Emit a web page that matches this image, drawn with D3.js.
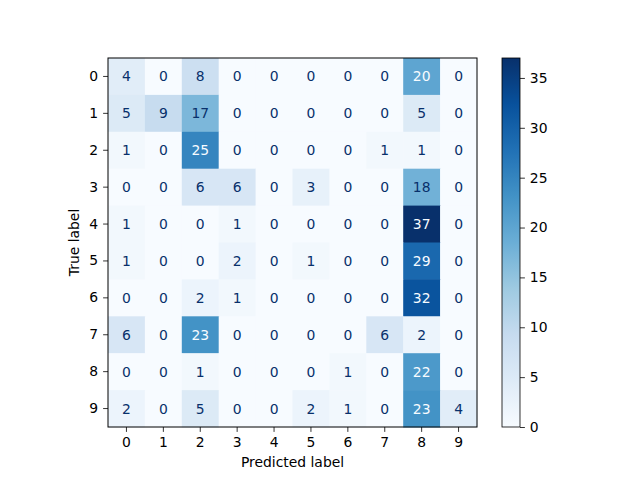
<!DOCTYPE html>
<html>
<head>
<meta charset="utf-8">
<script src="https://cdn.jsdelivr.net/npm/d3@7"></script>
<style>
  body { margin: 0; background: #fff; }
  text { font-family: "DejaVu Sans", sans-serif; }
</style>
</head>
<body>
<script>
// confusion matrix values, rows = true label, cols = predicted label
var labels = ["0", "1", "2", "3", "4", "5", "6", "7", "8", "9"];
var row0 = [4, 0, 8, 0, 0, 0, 0, 0, 20, 0];
var row1 = [5, 9, 17, 0, 0, 0, 0, 0, 5, 0];
var row2 = [1, 0, 25, 0, 0, 0, 0, 1, 1, 0];
var row3 = [0, 0, 6, 6, 0, 3, 0, 0, 18, 0];
var row4 = [1, 0, 0, 1, 0, 0, 0, 0, 37, 0];
var row5 = [1, 0, 0, 2, 0, 1, 0, 0, 29, 0];
var row6 = [0, 0, 2, 1, 0, 0, 0, 0, 32, 0];
var row7 = [6, 0, 23, 0, 0, 0, 0, 6, 2, 0];
var row8 = [0, 0, 1, 0, 0, 0, 1, 0, 22, 0];
var row9 = [2, 0, 5, 0, 0, 2, 1, 0, 23, 4];
var matrix = [row0, row1, row2, row3, row4, row5, row6, row7, row8, row9];
var colorbarTicks = [0, 5, 10, 15, 20, 25, 30, 35];

var width = 640, height = 480;
var mLeft = 108, mRight = 477, mTop = 58, mBottom = 427;
var cbLeft = 502, cbRight = 520;

// matplotlib "Blues"
var blues = ["#f7fbff", "#deebf7", "#c6dbef", "#9ecae1", "#6baed6",
             "#4292c6", "#2171b5", "#08519c", "#08306b"];

var cells = [];
matrix.forEach(function(r, i) {
    r.forEach(function(v, j) {
        cells.push({row: i, col: j, value: v});
    });
});

var vmin = d3.min(cells, function(d) { return d.value; });
var vmax = d3.max(cells, function(d) { return d.value; });
var thresh = (vmin + vmax) / 2;

var color = d3.scaleLinear()
    .domain(blues.map(function(c, i) { return vmin + (vmax - vmin) * i / (blues.length - 1); }))
    .range(blues)
    .interpolate(d3.interpolateRgb);

var x = d3.scaleBand().domain(labels).range([mLeft, mRight]);
var y = d3.scaleBand().domain(labels).range([mTop, mBottom]);

var svg = d3.select("body").append("svg")
    .attr("width", width)
    .attr("height", height);

svg.append("rect")
    .attr("width", width)
    .attr("height", height)
    .attr("fill", "#ffffff");

// cells
svg.selectAll(".cell").data(cells).enter()
    .append("rect")
    .classed("cell", true)
    .attr("x", function(d) { return x(labels[d.col]); })
    .attr("y", function(d) { return y(labels[d.row]); })
    .attr("width", x.bandwidth() + 0.5)
    .attr("height", y.bandwidth() + 0.5)
    .attr("fill", function(d) { return color(d.value); });

svg.selectAll(".val").data(cells).enter()
    .append("text")
    .classed("val", true)
    .attr("x", function(d) { return x(labels[d.col]) + x.bandwidth() / 2; })
    .attr("y", function(d) { return y(labels[d.row]) + y.bandwidth() / 2; })
    .attr("dy", "0.36em")
    .attr("text-anchor", "middle")
    .style("font-size", "13.9px")
    .attr("fill", function(d) { return d.value > thresh ? "#f7fbff" : "#08306b"; })
    .text(function(d) { return d.value; });

// axes
var xAxis = svg.append("g")
    .attr("transform", "translate(0," + mBottom + ")")
    .call(d3.axisBottom(x).tickSize(4.9).tickPadding(4.9));
var yAxis = svg.append("g")
    .attr("transform", "translate(" + mLeft + ",0)")
    .call(d3.axisLeft(y).tickSize(4.9).tickPadding(4.9));

[xAxis, yAxis].forEach(function(g) {
    g.select(".domain").remove();
    g.selectAll("line").attr("stroke", "#000").attr("stroke-width", 0.8);
    g.selectAll("text").style("font-size", "13.9px").attr("fill", "#000")
        .style("font-family", "DejaVu Sans, sans-serif");
});

svg.append("rect")
    .attr("x", mLeft).attr("y", mTop)
    .attr("width", mRight - mLeft).attr("height", mBottom - mTop)
    .attr("fill", "none").attr("stroke", "#000").attr("stroke-width", 1);

svg.append("text")
    .text("Predicted label")
    .attr("x", (mLeft + mRight) / 2)
    .attr("y", 467)
    .attr("text-anchor", "middle")
    .style("font-size", "13.9px");

svg.append("text")
    .text("True label")
    .attr("transform", "translate(79," + (mTop + mBottom) / 2 + ") rotate(-90)")
    .attr("text-anchor", "middle")
    .style("font-size", "13.9px");

// colorbar
var defs = svg.append("defs");
var grad = defs.append("linearGradient")
    .attr("id", "cbgrad")
    .attr("x1", 0).attr("y1", 1).attr("x2", 0).attr("y2", 0);
grad.selectAll("stop").data(blues).enter()
    .append("stop")
    .attr("offset", function(d, i) { return i / (blues.length - 1); })
    .attr("stop-color", function(d) { return d; });

var cb = d3.scaleLinear().domain([vmin, vmax]).range([mBottom, mTop]);

svg.append("rect")
    .attr("x", cbLeft).attr("y", mTop)
    .attr("width", cbRight - cbLeft).attr("height", mBottom - mTop)
    .attr("fill", "url(#cbgrad)")
    .attr("stroke", "#000").attr("stroke-width", 0.8);

var cbAxis = svg.append("g")
    .attr("transform", "translate(" + cbRight + ",0)")
    .call(d3.axisRight(cb).tickValues(colorbarTicks).tickSize(4.9).tickPadding(4.9));
cbAxis.select(".domain").remove();
cbAxis.selectAll("line").attr("stroke", "#000").attr("stroke-width", 0.8);
cbAxis.selectAll("text").style("font-size", "13.9px").attr("fill", "#000")
    .style("font-family", "DejaVu Sans, sans-serif");
</script>
</body>
</html>
